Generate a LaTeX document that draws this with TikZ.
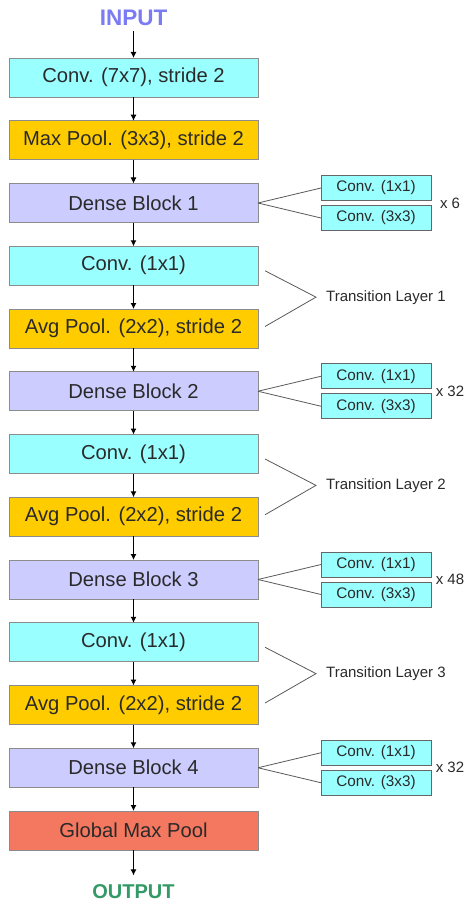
\documentclass[tikz,border=0pt]{standalone}
\usepackage{xcolor}
\usepackage{fontspec}
\setmainfont{Liberation Sans}
\usepackage{tikz}
\usetikzlibrary{positioning,calc,arrows.meta}

\definecolor{convfill}{HTML}{99FFFF}
\definecolor{poolfill}{HTML}{FFCC00}
\definecolor{densefill}{HTML}{CCCCFF}
\definecolor{gmpfill}{HTML}{F4775F}
\definecolor{inputcol}{HTML}{7B7BF4}
\definecolor{outputcol}{HTML}{339966}
\definecolor{textcol}{HTML}{2A2A2A}

\tikzset{
    layer/.style={draw=black!45, line width=0.9pt, minimum width=249pt, minimum height=39pt,
        inner sep=0pt, outer sep=0pt, text=textcol, font=\fontsize{20.2}{23}\selectfont},
    convbox/.style={layer, fill=convfill},
    poolbox/.style={layer, fill=poolfill},
    densebox/.style={layer, fill=densefill},
    gmpbox/.style={layer, fill=gmpfill},
    subbox/.style={draw=black!60, line width=0.9pt, fill=convfill, minimum width=110pt,
        minimum height=25pt, inner sep=0pt, outer sep=0pt, text=textcol, font=\fontsize{15.3}{17}\selectfont},
    sidetext/.style={text=textcol, font=\fontsize{15}{17}\selectfont, inner sep=0pt},
    endtext/.style={font=\bfseries\fontsize{20}{24}\selectfont},
    flow/.style={-{Latex[length=6pt,width=6pt]}, line width=1pt},
    link/.style={draw=black!65, line width=0.8pt}
}

\begin{document}
\begin{tikzpicture}[x=1pt, y=1pt, node distance=23.75pt]
    \useasboundingbox (0,0) rectangle (465,-904);

    % main column
    \node[endtext, text=inputcol, font=\bfseries\fontsize{22.5}{26}\selectfont] (input) at (133.5,-18) {INPUT};
    \node[convbox] (conv0) at (133.5,-77.5) {Conv. (7x7), stride 2};
    \node[poolbox, below=of conv0] (pool0) {Max Pool. (3x3), stride 2};
    \node[densebox, below=of pool0] (dense1) {Dense Block 1};
    \node[convbox, below=of dense1] (tconv1) {Conv. (1x1)};
    \node[poolbox, below=of tconv1] (tpool1) {Avg Pool. (2x2), stride 2};
    \node[densebox, below=of tpool1] (dense2) {Dense Block 2};
    \node[convbox, below=of dense2] (tconv2) {Conv. (1x1)};
    \node[poolbox, below=of tconv2] (tpool2) {Avg Pool. (2x2), stride 2};
    \node[densebox, below=of tpool2] (dense3) {Dense Block 3};
    \node[convbox, below=of dense3] (tconv3) {Conv. (1x1)};
    \node[poolbox, below=of tconv3] (tpool3) {Avg Pool. (2x2), stride 2};
    \node[densebox, below=of tpool3] (dense4) {Dense Block 4};
    \node[gmpbox, below=of dense4] (gmp) {Global Max Pool};
    \node[endtext, text=outputcol] (output) at (133.5,-892) {OUTPUT};

    \draw[flow, shorten <=2pt] (input) -- (conv0);
    \draw[flow] (conv0) -- (pool0);
    \draw[flow] (pool0) -- (dense1);
    \draw[flow] (dense1) -- (tconv1);
    \draw[flow] (tconv1) -- (tpool1);
    \draw[flow] (tpool1) -- (dense2);
    \draw[flow] (dense2) -- (tconv2);
    \draw[flow] (tconv2) -- (tpool2);
    \draw[flow] (tpool2) -- (dense3);
    \draw[flow] (dense3) -- (tconv3);
    \draw[flow] (tconv3) -- (tpool3);
    \draw[flow] (tpool3) -- (dense4);
    \draw[flow] (dense4) -- (gmp);
    \draw[flow, shorten >=6pt] (gmp) -- (output);

    % inside the dense blocks
    \node[subbox, anchor=south west] (d1a) at ([xshift=63pt, yshift=2.5pt]dense1.east) {Conv. (1x1)};
    \node[subbox, below=5pt of d1a] (d1b) {Conv. (3x3)};
    \node[sidetext] (rep1) at ([xshift=19pt, yshift=-2.5pt]d1a.south east) {x 6};
    \draw[link] (dense1.east) -- (d1a.west);
    \draw[link] (dense1.east) -- (d1b.west);

    \node[subbox, anchor=south west] (d2a) at ([xshift=63pt, yshift=2.5pt]dense2.east) {Conv. (1x1)};
    \node[subbox, below=5pt of d2a] (d2b) {Conv. (3x3)};
    \node[sidetext] (rep2) at ([xshift=19pt, yshift=-2.5pt]d2a.south east) {x 32};
    \draw[link] (dense2.east) -- (d2a.west);
    \draw[link] (dense2.east) -- (d2b.west);

    \node[subbox, anchor=south west] (d3a) at ([xshift=63pt, yshift=2.5pt]dense3.east) {Conv. (1x1)};
    \node[subbox, below=5pt of d3a] (d3b) {Conv. (3x3)};
    \node[sidetext] (rep3) at ([xshift=19pt, yshift=-2.5pt]d3a.south east) {x 48};
    \draw[link] (dense3.east) -- (d3a.west);
    \draw[link] (dense3.east) -- (d3b.west);

    \node[subbox, anchor=south west] (d4a) at ([xshift=63pt, yshift=2.5pt]dense4.east) {Conv. (1x1)};
    \node[subbox, below=5pt of d4a] (d4b) {Conv. (3x3)};
    \node[sidetext] (rep4) at ([xshift=19pt, yshift=-2.5pt]d4a.south east) {x 32};
    \draw[link] (dense4.east) -- (d4a.west);
    \draw[link] (dense4.east) -- (d4b.west);

    % transition layers
    \coordinate (tip1) at ($(tconv1.east)!.5!(tpool1.east)+(58,0)$);
    \node[sidetext, right=10pt of tip1] (trans1) {Transition Layer 1};
    \draw[link] ([xshift=7pt, yshift=-5pt]tconv1.east) -- (tip1) -- ([xshift=7pt, yshift=2pt]tpool1.east);

    \coordinate (tip2) at ($(tconv2.east)!.5!(tpool2.east)+(58,0)$);
    \node[sidetext, right=10pt of tip2] (trans2) {Transition Layer 2};
    \draw[link] ([xshift=7pt, yshift=-5pt]tconv2.east) -- (tip2) -- ([xshift=7pt, yshift=2pt]tpool2.east);

    \coordinate (tip3) at ($(tconv3.east)!.5!(tpool3.east)+(58,0)$);
    \node[sidetext, right=10pt of tip3] (trans3) {Transition Layer 3};
    \draw[link] ([xshift=7pt, yshift=-5pt]tconv3.east) -- (tip3) -- ([xshift=7pt, yshift=2pt]tpool3.east);
\end{tikzpicture}
\end{document}
